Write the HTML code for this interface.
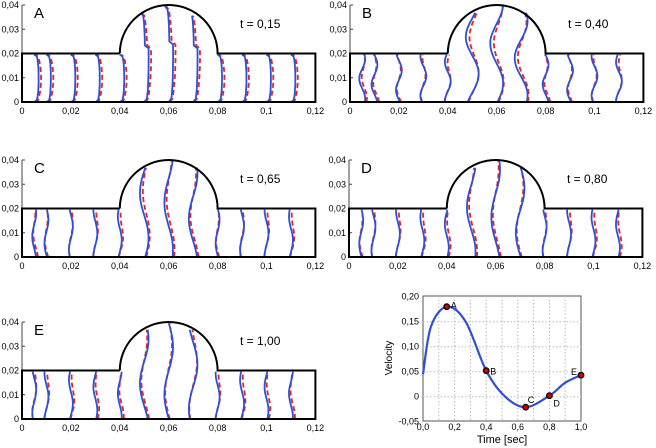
<!DOCTYPE html><html><head><meta charset="utf-8"><style>
body{margin:0;background:#fff}svg{display:block;font-family:"Liberation Sans",sans-serif}
</style></head><body>
<svg id="s" width="656" height="448" viewBox="0 0 656 448" xmlns="http://www.w3.org/2000/svg"></svg>
<script>
(function(){
const S=document.getElementById('s');let h='';
const panels=[
 {L:'A',t:'0,15',x0:22,y0:102,k:0},
 {L:'B',t:'0,40',x0:350,y0:102,k:1},
 {L:'C',t:'0,65',x0:22,y0:257,k:2},
 {L:'D',t:'0,80',x0:349,y0:257,k:3},
 {L:'E',t:'1,00',x0:22,y0:419,k:4}];
const SX=2445,SY=2425;
function topY(x){const d=x-0.06;if(Math.abs(d)<0.02)return 0.02+Math.sqrt(0.0004-d*d);return 0.02;}
const st=[0.005,0.01,0.02,0.03,0.04,0.05,0.06,0.07,0.08,0.09,0.1,0.11];
function off(k,s,y,H,red,i){
 const r=y/H;
 if(k==0){return 0.0018*Math.pow(Math.sin(Math.PI*r),0.25)+(red?0.0006*Math.sin(Math.PI*r):0)-(H>0.021&&r>0.6?0.0015:0);}
 const ph=i*0.9+k;
 let a=k==1?0.0012:0.0008;if(H>0.021)a*=2.2;
 return a*Math.sin(2*Math.PI*r*(k==1?1.2:1)+ph)*(red?0.8:1)+(red?0.0006*Math.sin(3*r+ph):0);
}
for(const p of panels){
 const X=v=>p.x0+v*SX,Y=v=>p.y0-v*SY;
 h+=`<line x1="${p.x0}" y1="${Y(0.04)}" x2="${p.x0}" y2="${p.y0}" stroke="#444" stroke-width="1"/>`;
 for(let i=0;i<=4;i++){const y=Y(i*0.01);h+=`<line x1="${p.x0}" y1="${y}" x2="${p.x0+3}" y2="${y}" stroke="#444"/><text x="${p.x0-3}" y="${y+3}" font-size="9" text-anchor="end">${i==0?'0':'0,0'+i}</text>`;}
 const xl=['0','0,02','0,04','0,06','0,08','0,1','0,12'];
 xl.forEach((t,i)=>{h+=`<text x="${X(i*0.02)}" y="${p.y0+12}" font-size="9" text-anchor="middle">${t}</text>`;});
 st.forEach((s,i)=>{
  const H=topY(s)-0.0005;
  for(const red of [1,0]){
   let d='';for(let j=0;j<=30;j++){const y=H*j/30;const x=s+off(p.k,s,y,H,red,i)+(red?0.0004:0);d+=(j?'L':'M')+X(x).toFixed(1)+' '+Y(y).toFixed(1);}
   h+=red?`<path d="${d}" fill="none" stroke="#e02525" stroke-width="1.8" stroke-dasharray="5 3"/>`:`<path d="${d}" fill="none" stroke="#2f4fd6" stroke-width="1.8"/>`;
  }
 });
 const r=0.02*SX;
 h+=`<path d="M${X(0.04)} ${Y(0.02)} L${X(0)} ${Y(0.02)} L${X(0)} ${p.y0} L${X(0.12)} ${p.y0} L${X(0.12)} ${Y(0.02)} L${X(0.08)} ${Y(0.02)} A${r} ${0.02*SY} 0 0 0 ${X(0.04)} ${Y(0.02)}" fill="none" stroke="#000" stroke-width="2"/>`;
 h+=`<text x="${p.x0+12}" y="${Y(0.04)+13}" font-size="15">${p.L}</text>`;
 h+=`<text x="${p.x0+218}" y="${Y(0.04)+23}" font-size="12">t = ${p.t}</text>`;
}
const vx=t=>423+t*158,vy=v=>396.7-v*500;
h+=`<rect x="423" y="296" width="158" height="125" fill="none" stroke="#555"/>`;
for(let i=1;i<10;i++)h+=`<line x1="${vx(i/10)}" y1="296" x2="${vx(i/10)}" y2="421" stroke="#bbb" stroke-dasharray="1.5 2"/>`;
for(let i=1;i<5;i++)h+=`<line x1="423" y1="${vy(-0.05+i*0.05)}" x2="581" y2="${vy(-0.05+i*0.05)}" stroke="#bbb" stroke-dasharray="1.5 2"/>`;
['-0,05','0','0,05','0,10','0,15','0,20'].forEach((t,i)=>{h+=`<text x="419" y="${vy(-0.05+i*0.05)+3}" font-size="9" text-anchor="end">${t}</text>`;});
['0,0','0,2','0,4','0,6','0,8','1,0'].forEach((t,i)=>{h+=`<text x="${vx(i*0.2)}" y="430" font-size="9" text-anchor="middle">${t}</text>`;});
h+=`<text x="502" y="443" font-size="11" text-anchor="middle">Time [sec]</text>`;
h+=`<text transform="translate(392,358) rotate(-90)" font-size="10" text-anchor="middle">Velocity</text>`;
const P=[[0,0.045],[0.05,0.14],[0.15,0.18],[0.27,0.15],[0.4,0.052],[0.52,0.0],[0.65,-0.021],[0.8,0.002],[0.9,0.028],[1.0,0.043]];
let d='M'+vx(0)+' '+vy(0.045);
for(let i=0;i<P.length-1;i++){const p0=P[Math.max(0,i-1)],p1=P[i],p2=P[i+1],p3=P[Math.min(P.length-1,i+2)];
 const c1=[p1[0]+(p2[0]-p0[0])/6,p1[1]+(p2[1]-p0[1])/6],c2=[p2[0]-(p3[0]-p1[0])/6,p2[1]-(p3[1]-p1[1])/6];
 d+=`C${vx(c1[0])} ${vy(c1[1])} ${vx(c2[0])} ${vy(c2[1])} ${vx(p2[0])} ${vy(p2[1])}`;}
h+=`<path d="${d}" fill="none" stroke="#2f4fd6" stroke-width="2.2"/>`;
[['A',0.15,0.18,4,-1],['B',0.4,0.052,4,1],['C',0.65,-0.021,2,-7],['D',0.8,0.002,4,8],['E',1.0,0.043,-10,-3]].forEach(q=>{
 h+=`<circle cx="${vx(q[1])}" cy="${vy(q[2])}" r="2.8" fill="#c00" stroke="#000" stroke-width="1.2"/><text x="${vx(q[1])+q[3]}" y="${vy(q[2])+q[4]+3}" font-size="9">${q[0]}</text>`;});
S.innerHTML=h;
})();
</script></body></html>
